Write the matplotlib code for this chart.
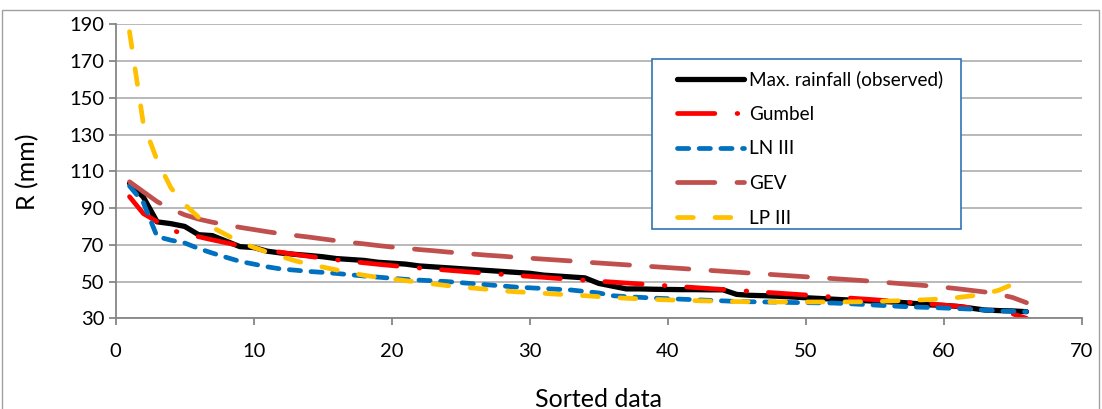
import matplotlib
matplotlib.use("Agg")
import matplotlib.pyplot as plt
from matplotlib.lines import Line2D
from matplotlib.patches import Rectangle

plt.rcParams['font.family'] = ['Lato', 'DejaVu Sans']
plt.rcParams['lines.scale_dashes'] = False

# Rank of each value in the sorted series
rank = list(range(1, 67))

observed = [103.5, 96, 82.5, 81.5, 80, 75.5, 75, 72, 69, 68.5,
            66.5, 65.5, 64.8, 64.2, 63.5, 62.5, 62, 61.5, 60.5, 60,
            59.5, 58.5, 58, 57.5, 57, 56.5, 56, 55.5, 55, 54.5,
            53.5, 53, 52.5, 52, 49, 47.5, 46, 46, 45.8, 45.7,
            45.6, 45.6, 45.5, 45.5, 43, 42.5, 42.3, 42, 41.6, 41.2,
            40.8, 40.4, 40, 39.7, 39.3, 39, 38.6, 38, 37.3, 37,
            36.5, 35.5, 34.5, 34.2, 34, 33.6]

gumbel = [96.2, 87, 82.6, 78, 76, 74.4, 72.7, 71.1, 69.5, 68.4,
          67, 65.9, 64.8, 63.7, 62.8, 61.8, 61, 60.2, 59.4, 58.7,
          58, 57.4, 56.8, 56.2, 55.6, 55, 54.4, 53.9, 53.3, 52.8,
          52.3, 51.7, 51.2, 50.7, 50.2, 49.7, 49.2, 48.7, 48.2, 47.7,
          47.2, 46.7, 46.2, 45.7, 45.2, 44.7, 44.2, 43.7, 43.2, 42.7,
          42.1, 41.6, 41.1, 40.6, 40.1, 39.5, 39, 38.4, 37.8, 37.2,
          36.5, 35.7, 34.9, 33.9, 32.4, 30]

ln3 = [102, 93, 74.5, 72.5, 71, 68, 65.5, 63.2, 61, 59.5,
       58, 56.8, 56.2, 55.5, 55, 54.4, 53.7, 53, 52.4, 51.8,
       51.2, 50.8, 50.4, 50, 49.4, 48.8, 48.2, 47.6, 47, 46.6,
       46.2, 45.8, 45.4, 44.6, 43.8, 42.3, 41.8, 41.4, 41, 40.7,
       40.4, 40.1, 39.8, 39.5, 39.2, 39, 38.9, 38.8, 38.6, 38.5,
       38.4, 38.3, 38, 37.6, 37.2, 36.8, 36.4, 36.1, 35.9, 35.6,
       35.3, 35, 34.5, 34, 33.8, 33.6]

gev = [104.3, 98.9, 93.5, 89.5, 86.3, 84, 82.3, 80.9, 79.5, 78.3,
       77.1, 76, 75.1, 74.2, 73.2, 72.2, 71.3, 70.5, 69.6, 68.8,
       68.1, 67.4, 66.8, 66.1, 65.5, 64.9, 64.3, 63.8, 63.2, 62.7,
       62.2, 61.7, 61.2, 60.6, 60.1, 59.6, 59.1, 58.6, 58.1, 57.6,
       57.1, 56.6, 56.1, 55.6, 55.1, 54.6, 54.1, 53.6, 53.1, 52.6,
       52.1, 51.6, 51.1, 50.6, 50, 49.4, 48.8, 48.2, 47.6, 46.9,
       46.1, 45.2, 44.3, 43.1, 41.3, 38.5]

lp3 = [186, 136, 116, 101, 92, 85, 79.5, 75.5, 71.5, 68.6,
       66, 63.6, 61.3, 59.5, 57.9, 56.3, 54.8, 53.4, 52.3, 51.4,
       50.5, 49.6, 48.7, 47.8, 47, 46.4, 45.7, 45, 44.4, 44.1,
       43.6, 43.1, 42.7, 42.3, 41.8, 41.4, 40.9, 40.6, 40.3, 40,
       39.8, 39.6, 39.4, 39.2, 39.1, 39, 38.95, 38.9, 38.9, 38.9,
       38.9, 38.9, 38.95, 39, 39.2, 39.4, 39.6, 39.9, 40.2, 40.7,
       41.3, 42.2, 43.3, 45.3, 48.5, 50.5]

labels = ['Max. rainfall (observed)', 'Gumbel', 'LN III', 'GEV', 'LP III']
colors = ['#000000', '#FF0000', '#0070C0', '#C0504D', '#FFC000']
styles = ['-',
          (0, (26.9, 16, 0.5, 15.6)),
          (0, (8.1, 7.5)),
          (0, (26.9, 15.9)),
          (0, (11.4, 15.6))]
widths = [3.8, 3.4, 3.4, 3.4, 3.4]

W, H = 1102, 409
fig = plt.figure(figsize=(W / 100, H / 100), dpi=100)
ax = fig.add_axes([115.7 / W, 1 - 318.3 / H, (1081.7 - 115.7) / W, (318.3 - 24.3) / H])

grey = '#868686'
for y, lab, c, ls, lw in zip([observed, gumbel, ln3, gev, lp3], labels, colors, styles, widths):
    ax.plot(rank, y, color=c, linestyle=ls, linewidth=lw,
            solid_capstyle='round', dash_capstyle='round', solid_joinstyle='round')

ax.set_xlim(0, 70)
ax.set_ylim(30, 190)
ax.set_xticks(range(0, 71, 10))
ax.set_yticks(range(30, 191, 20))
ax.yaxis.grid(True, color='#A5A5A5', linewidth=1.1)
ax.set_axisbelow(True)
for s in ['top', 'right']:
    ax.spines[s].set_visible(False)
for s in ['left', 'bottom']:
    ax.spines[s].set_color(grey)
    ax.spines[s].set_linewidth(1.3)
ax.tick_params(axis='both', colors=grey, width=1.3, length=5, direction='out',
               labelcolor='black', labelsize=14.5)
ax.tick_params(axis='x', pad=13)
ax.tick_params(axis='y', pad=3)

ax.set_xlabel('Sorted data', fontsize=18, labelpad=20)
ax.set_ylabel('R (mm)', fontsize=18, labelpad=22)

# legend box drawn by hand, entries placed inside it
fig.patches.append(Rectangle((652 / W, 1 - 229 / H), (961 - 652) / W, (229 - 59) / H,
                             transform=fig.transFigure, fill=True, facecolor='white',
                             edgecolor='#2E75B6', linewidth=1.2, zorder=5))
handles = [Line2D([], [], color=c, linestyle=ls, linewidth=lw,
                  solid_capstyle='round', dash_capstyle='round')
           for c, ls, lw in zip(colors, styles, widths)]
leg = fig.legend(handles, labels, loc='upper left', bbox_to_anchor=(668 / W, 1 - 61 / H),
                 bbox_transform=fig.transFigure, frameon=False, fontsize=13.6,
                 handlelength=3.5, handletextpad=0.3, labelspacing=0.93, borderpad=0)
leg.set_zorder(6)

# outer chart border
fig.patches.append(Rectangle((2 / W, -0.01), (1099 - 2) / W, 1 - 10 / H + 0.01,
                             transform=fig.transFigure, fill=False,
                             edgecolor='#A0A0A0', linewidth=1.0))

fig.savefig('out.png', dpi=100)
